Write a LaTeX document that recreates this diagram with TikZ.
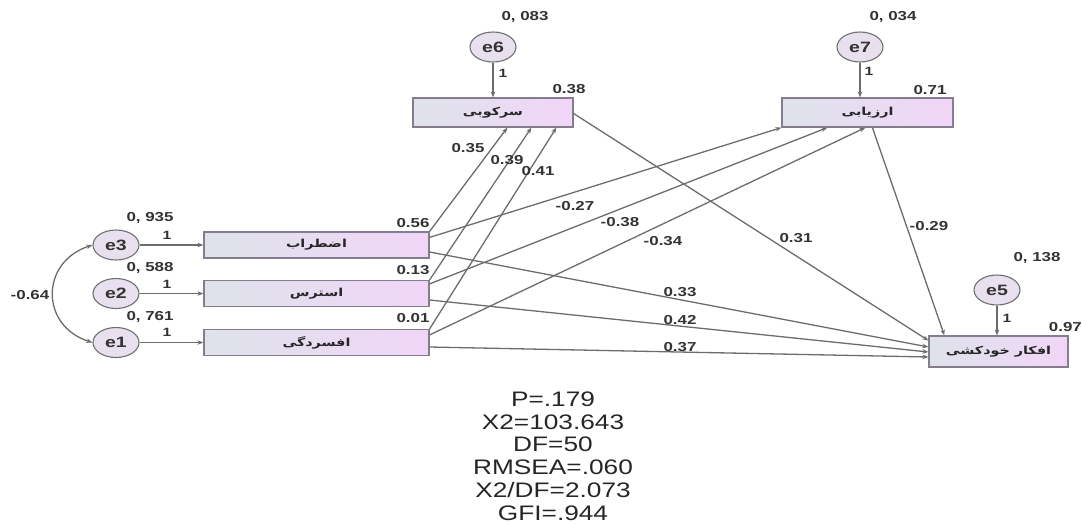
\documentclass[tikz,border=0pt]{standalone}
\usepackage{fontspec}
\usepackage{graphicx}
\setmainfont{Liberation Sans}
\newfontfamily\arabicfont[Script=Arabic]{DejaVu Sans}
\TeXXeTstate=1
\usetikzlibrary{shapes.geometric,arrows.meta,calc}
\newcommand{\hx}[1]{\scalebox{1.3}[1]{#1}}
\newcommand{\fa}[1]{\scalebox{1.3}[1]{\arabicfont\bfseries\beginR #1\endR}}
\definecolor{boxL}{HTML}{DEE3EA}
\definecolor{boxR}{HTML}{F1D5F8}
\definecolor{boxD}{HTML}{857D8E}
\definecolor{ellF}{HTML}{E8DFEF}
\definecolor{ellD}{HTML}{707070}
\definecolor{ln}{HTML}{6C6C6C}
\definecolor{txt}{HTML}{333333}
\tikzset{
  var/.style={draw=boxD, line width=1.2pt, left color=boxL, right color=boxR, inner sep=0pt, text=black!85, font=\fontsize{11}{11}\selectfont},
  err/.style={ellipse, draw=ellD, fill=ellF, line width=1.1pt, minimum width=46pt, minimum height=30pt, inner sep=0pt, text=txt, font=\fontsize{15}{15}\selectfont\bfseries},
  path/.style={draw=ln, line width=1.3pt, -{Stealth[length=6pt,width=4.5pt]}},
  coef/.style={font=\fontsize{13}{13}\selectfont\bfseries, text=txt, inner sep=0pt},
  one/.style={font=\fontsize{12}{12}\selectfont\bfseries, text=txt, inner sep=0pt},
  stat/.style={font=\fontsize{21}{22.8}\selectfont, text=black!85, align=center, inner sep=0pt}
}
\begin{document}
\begin{tikzpicture}[x=1pt,y=-1pt]
\useasboundingbox (0,0) rectangle (1082,523);
% observed/latent variables
\node[var, minimum width=160pt, minimum height=29pt] (sup) at (493,112.5) {\fa{سرکوبی}};
\node[var, minimum width=171pt, minimum height=29pt] (arz) at (867.5,112.5) {\fa{ارزیابی}};
\node[var, minimum width=225pt, minimum height=26pt] (anx) at (316.5,245) {\fa{اضطراب}};
\node[var, minimum width=225pt, minimum height=26pt] (str) at (316.5,293.5) {\fa{استرس}};
\node[var, minimum width=225pt, minimum height=26pt] (dep) at (316.5,342.5) {\fa{افسردگی}};
\node[var, minimum width=139pt, minimum height=31pt] (out) at (998.5,351.5) {\fa{افکار خودکشی}};
% errors
\node[err] (e6) at (493,47) {\hx{e6}};
\node[err] (e7) at (860,47) {\hx{e7}};
\node[err] (e5) at (997,290) {\hx{e5}};
\node[err] (e3) at (116,245) {\hx{e3}};
\node[err] (e2) at (116,293.5) {\hx{e2}};
\node[err] (e1) at (116,342.5) {\hx{e1}};
% error paths
\draw[path] (e6) -- (e6 |- sup.north);
\draw[path] (e7) -- (e7 |- arz.north);
\draw[path] (e5) -- (e5 |- out.north);
\draw[path] (e3) -- (anx);
\draw[path] (e2) -- (str);
\draw[path] (e1) -- (dep);
\draw[draw=ln, line width=1.3pt, {Stealth[length=6pt,width=4.5pt]}-{Stealth[length=6pt,width=4.5pt]}]
  (e3.west) .. controls (40,262) and (40,326) .. (e1.west);
% structural paths
\draw[path] (anx.north east) -- ($(sup.south west)+(95,0)$);
\draw[path] (str.north east) -- ($(sup.south west)+(119,0)$);
\draw[path] (dep.north east) -- ($(sup.south west)+(144,0)$);
\draw[path] ($(anx.north east)+(0,6)$) -- (arz.south west);
\draw[path] ($(str.north east)+(0,4)$) -- ($(arz.south west)+(46,0)$);
\draw[path] ($(dep.north east)+(0,6)$) -- ($(arz.south west)+(84,0)$);
\draw[path] ($(anx.east)+(0,7)$) -- ($(out.west)+(0,-4.5)$);
\draw[path] ($(str.east)+(0,6.5)$) -- ($(out.west)+(0,0.5)$);
\draw[path] ($(dep.east)+(0,4.5)$) -- ($(out.west)+(0,5.5)$);
\draw[path] ($(sup.east)+(0,1)$) -- ($(out.west)+(0,-11)$);
\draw[path] ($(arz.south west)+(91,0)$) -- ($(out.north west)+(16,0)$);
% variance / r2 labels
\node[coef] (v6) at (525,17) {\hx{0, 083}};
\node[one] (o6) at (503,73) {\hx{1}};
\node[coef] (r6) at (569,89) {\hx{0.38}};
\node[coef] (v7) at (893,17) {\hx{0, 034}};
\node[one] (o7) at (869,71) {\hx{1}};
\node[coef] (r7) at (930,90) {\hx{0.71}};
\node[coef] (v5) at (1037,258) {\hx{0, 138}};
\node[one] (o5) at (1007,318) {\hx{1}};
\node[coef, anchor=east] (r5) at (1082,327) {\hx{0.97}};
\node[coef] (v3) at (150,218) {\hx{0, 935}};
\node[one] (o3) at (167,235) {\hx{1}};
\node[coef] (v2) at (150,268) {\hx{0, 588}};
\node[one] (o2) at (167,284) {\hx{1}};
\node[coef] (v1) at (150,317) {\hx{0, 761}};
\node[one] (o1) at (167,332) {\hx{1}};
\node[coef] (cov) at (30,295) {\hx{-0.64}};
\node[coef] (r3) at (413,223) {\hx{0.56}};
\node[coef] (r2) at (413,270) {\hx{0.13}};
\node[coef] (r1) at (413,318) {\hx{0.01}};
% path coefficients
\node[coef] (c1) at (468,148) {\hx{0.35}};
\node[coef] (c2) at (507,160) {\hx{0.39}};
\node[coef] (c3) at (538,171) {\hx{0.41}};
\node[coef] (c4) at (575,206) {\hx{-0.27}};
\node[coef] (c5) at (620,222) {\hx{-0.38}};
\node[coef] (c6) at (663,241) {\hx{-0.34}};
\node[coef] (c7) at (796,238) {\hx{0.31}};
\node[coef] (c8) at (929,226) {\hx{-0.29}};
\node[coef] (c9) at (680,292) {\hx{0.33}};
\node[coef] (c10) at (680,320) {\hx{0.42}};
\node[coef] (c11) at (680,347) {\hx{0.37}};
% fit statistics
\node[stat] (stats) at (553,456) {\scalebox{1.25}[1]{P=.179}\\ \scalebox{1.25}[1]{X2=103.643}\\ \scalebox{1.25}[1]{DF=50}\\ \scalebox{1.25}[1]{RMSEA=.060}\\ \scalebox{1.25}[1]{X2/DF=2.073}\\ \scalebox{1.25}[1]{GFI=.944}};
\end{tikzpicture}
\end{document}
